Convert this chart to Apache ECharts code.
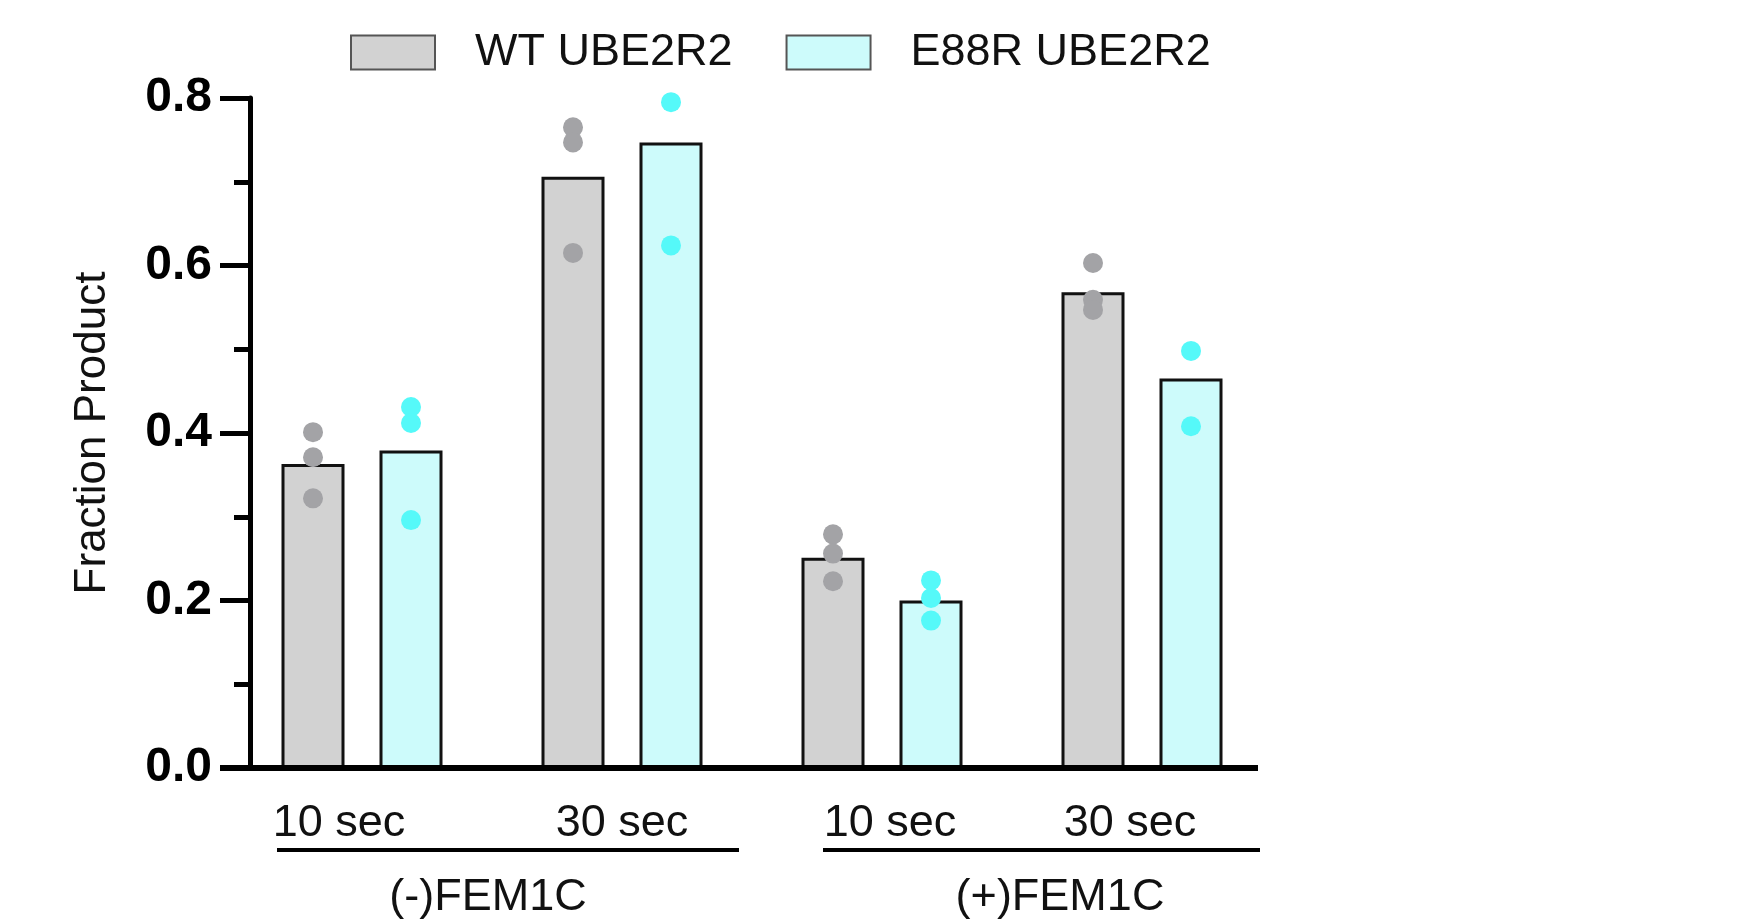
<!DOCTYPE html>
<html>
<head>
<meta charset="utf-8">
<script src="https://cdn.jsdelivr.net/npm/echarts@6/dist/echarts.min.js"></script>
<style>
  html, body { margin: 0; padding: 0; background: #fff; }
  #chart { width: 1747px; height: 921px; }
</style>
</head>
<body>
<div id="chart"></div>
<script>
// data
const categories = ['10 sec', '30 sec', '10 sec', '30 sec'];
const groups = ['(-)FEM1C', '(+)FEM1C'];
const seriesNames = ['WT UBE2R2', 'E88R UBE2R2'];
const wtMeans = [0.363, 0.706, 0.251, 0.568];
const e88rMeans = [0.379, 0.747, 0.200, 0.465];
const wtPoints = [[0.401, 0.371, 0.322], [0.765, 0.747, 0.615], [0.279, 0.256, 0.223], [0.603, 0.559, 0.547]];
const e88rPoints = [[0.431, 0.412, 0.296], [0.795, 0.624], [0.224, 0.203, 0.176], [0.498, 0.408]];
const yTicks = [0, 0.2, 0.4, 0.6, 0.8];

const FONT = '"Liberation Sans", Arial, sans-serif';
const BAR_W = 63;
const BAR_GAP = 35; // px between the two bars of a pair
const DOT_SHIFT = (BAR_W + BAR_GAP) / 2;

const chart = echarts.init(document.getElementById('chart'), null, { renderer: 'canvas' });

const dotSeries = (name, points, color, side) => {
  const data = [];
  points.forEach((vals, i) => vals.forEach(v => data.push([i, v])));
  return {
    name: name + ' points',
    type: 'custom',
    z: 5,
    silent: true,
    data: data,
    renderItem: (params, api) => {
      const p = api.coord([api.value(0), api.value(1)]);
      return {
        type: 'circle',
        shape: { cx: p[0] + side * DOT_SHIFT, cy: p[1], r: 10 },
        style: { fill: color }
      };
    }
  };
};

// per-label nudges so the tick labels sit where the original has them
const labelPad = [[0, 46, 0, 0], [0, 0, 0, 0], [0, 0, 0, 16], [0, 24, 0, 0]];

chart.setOption({
  animation: false,
  backgroundColor: '#fff',
  legend: {
    left: 345,
    top: 25,
    itemWidth: 84,
    itemHeight: 34,
    itemGap: 53,
    icon: 'rect',
    data: seriesNames,
    itemStyle: { borderColor: '#555', borderWidth: 2 },
    textStyle: { fontFamily: FONT, fontSize: 45, color: '#111', padding: [0, 0, 0, 35], lineHeight: 34 }
  },
  grid: { left: 232, right: 475, top: 98, bottom: 153, containLabel: false },
  xAxis: {
    type: 'category',
    data: categories.map((c, i) => ({ value: c, textStyle: { padding: labelPad[i] } })),
    axisLine: { show: false },
    axisTick: { show: false },
    axisLabel: { fontFamily: FONT, fontSize: 45, color: '#111', margin: 33 }
  },
  yAxis: {
    type: 'value',
    min: 0,
    max: 0.8,
    interval: 0.2,
    offset: -18,
    name: 'Fraction Product',
    nameLocation: 'middle',
    nameGap: 135,
    nameTextStyle: { fontFamily: FONT, fontSize: 44, color: '#111' },
    axisLine: { show: true, lineStyle: { color: '#000', width: 5 } },
    axisTick: { show: true, length: 30, lineStyle: { color: '#000', width: 5 } },
    minorTick: { show: true, splitNumber: 2, length: 16, lineStyle: { color: '#000', width: 5 } },
    splitLine: { show: false },
    axisLabel: {
      fontFamily: FONT, fontSize: 48, fontWeight: 'bold', color: '#000', margin: 38,
      formatter: v => yTicks.includes(+v.toFixed(1)) ? v.toFixed(1) : ''
    }
  },
  series: [
    {
      name: seriesNames[0], type: 'bar', data: wtMeans,
      barWidth: BAR_W, barGap: (BAR_GAP / BAR_W * 100) + '%', z: 2,
      itemStyle: { color: '#d2d2d2', borderColor: '#111', borderWidth: 3 }
    },
    {
      name: seriesNames[1], type: 'bar', data: e88rMeans,
      barWidth: BAR_W, barGap: (BAR_GAP / BAR_W * 100) + '%', z: 2,
      itemStyle: { color: '#cdfbfb', borderColor: '#111', borderWidth: 3 }
    },
    dotSeries(seriesNames[0], wtPoints, '#a3a3a6', -1),
    dotSeries(seriesNames[1], e88rPoints, '#55f9f9', 1)
  ]
});

// baseline and group brackets under the category labels
const px = i => chart.convertToPixel({ xAxisIndex: 0 }, i);
const baseY = chart.convertToPixel({ yAxisIndex: 0 }, 0);
const axisX = 250;
const bracketY = 850;
const brackets = [
  { from: px(0) - 85, to: px(1) + 117, textX: (px(0) + px(1)) / 2 - 4 },
  { from: px(2) - 59, to: px(3) + 118, textX: (px(2) + px(3)) / 2 + 48 }
];
const graphic = [{
  type: 'line', silent: true, z: 10,
  shape: { x1: axisX - 30, y1: baseY, x2: px(3) + 116, y2: baseY },
  style: { stroke: '#000', lineWidth: 6 }
}];
brackets.forEach((b, i) => {
  graphic.push({
    type: 'line', silent: true,
    shape: { x1: b.from, y1: bracketY, x2: b.to, y2: bracketY },
    style: { stroke: '#000', lineWidth: 4 }
  });
  graphic.push({
    type: 'text', silent: true, x: b.textX, y: bracketY + 48,
    style: { text: groups[i], font: '45px ' + FONT, fill: '#111', align: 'center', verticalAlign: 'middle' }
  });
});
chart.setOption({ graphic: graphic });
</script>
</body>
</html>
